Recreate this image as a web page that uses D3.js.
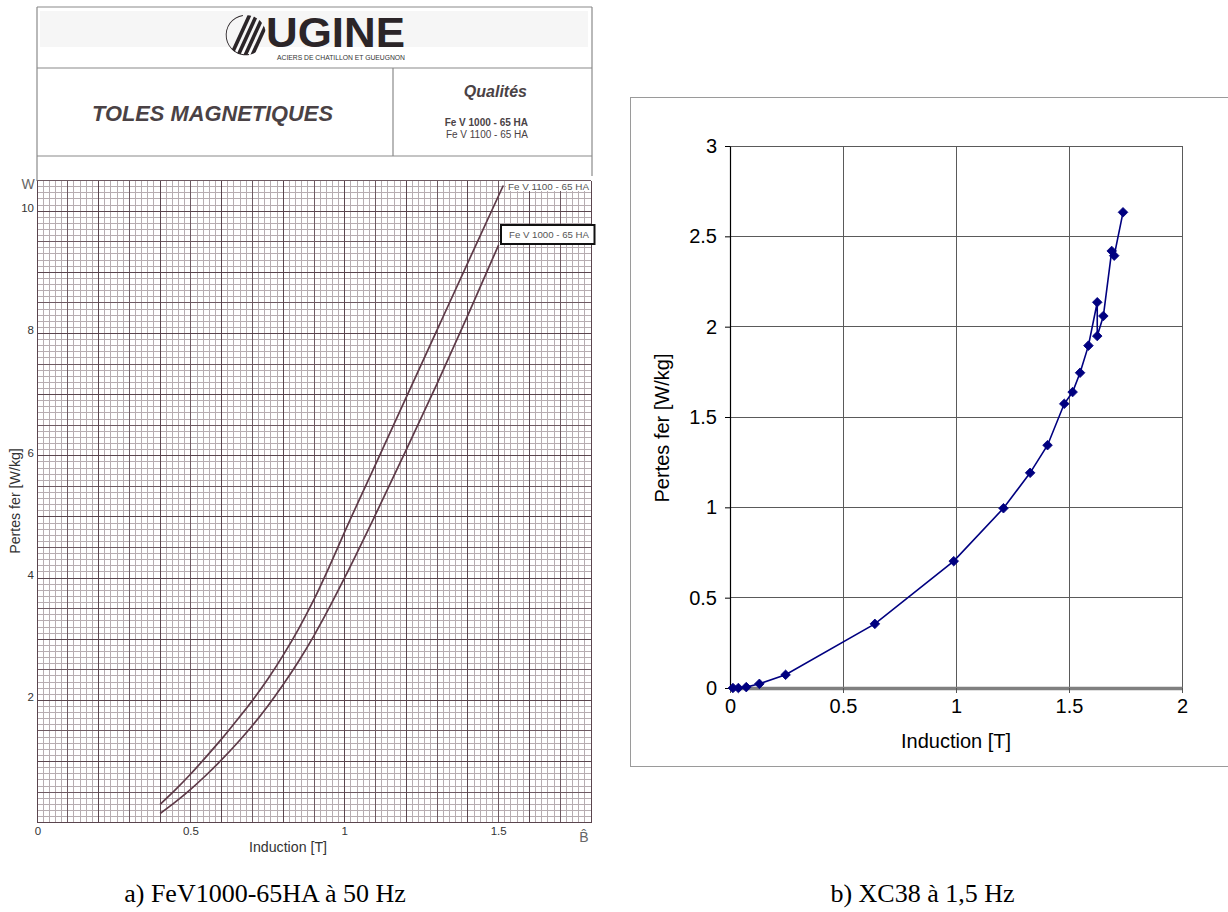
<!DOCTYPE html>
<html><head><meta charset="utf-8">
<script src="https://cdn.jsdelivr.net/npm/d3@7"></script>
<style>body{margin:0;background:#fff}svg{display:block}</style>
</head><body><svg id="c" width="1228" height="912"></svg>
<script>
// ---------- Panel a) FeV1000-65HA at 50 Hz (datasheet) ----------
const bFeV1100 = [0.40,0.45,0.50,0.55,0.60,0.65,0.70,0.75,0.80,0.85,0.90,0.95,1.00,1.10,1.20,1.30,1.40,1.515];
const wFeV1100 = [0.30,0.54,0.80,1.08,1.37,1.68,2.00,2.35,2.74,3.17,3.65,4.19,4.76,5.86,6.96,8.06,9.16,10.42];
const bFeV1000 = [0.40,0.45,0.50,0.55,0.60,0.65,0.70,0.75,0.80,0.85,0.90,0.95,1.00,1.10,1.20,1.30,1.40,1.50];
const wFeV1000 = [0.15,0.34,0.55,0.78,1.03,1.30,1.59,1.91,2.26,2.64,3.06,3.52,4.01,5.04,6.10,7.18,8.30,9.45];
const xTicksA = [0, 0.5, 1, 1.5];
const yTicksA = [2, 4, 6, 8, 10];
const captionA = "a) FeV1000-65HA à 50 Hz";

// ---------- Panel b) XC38 at 1,5 Hz ----------
const bXC38 = [0.013,0.037,0.072,0.130,0.246,0.641,0.990,1.210,1.328,1.405,1.479,1.516,1.549,1.586,1.625,1.625,1.652,1.689,1.700,1.739];
const pXC38 = [0.000,0.000,0.005,0.023,0.073,0.355,0.702,0.995,1.191,1.344,1.573,1.638,1.745,1.895,2.135,1.948,2.059,2.419,2.393,2.633];
const xTicksB = [0, 0.5, 1, 1.5, 2];
const yTicksB = [0, 0.5, 1, 1.5, 2, 2.5, 3];
const captionB = "b) XC38 à 1,5 Hz";

const svg = d3.select("#c");
svg.append("rect").attr("width",1228).attr("height",912).attr("fill","#fff");

// ================= PANEL A =================
const A = svg.append("g");
const sans = "Liberation Sans, Arial, Helvetica, sans-serif";
const xA = d3.scaleLinear().domain([0, 1.8]).range([37, 591]);
const yA = d3.scaleLinear().domain([0, 10.5]).range([822.7, 180.6]);

// header
A.append("rect").attr("x",40).attr("y",11).attr("width",548).attr("height",36).attr("fill","#f6f6f6");
const hdr = A.append("g").attr("stroke","#8a8a8a").attr("stroke-width",1.2).attr("fill","none");
hdr.append("line").attr("x1",37).attr("x2",592).attr("y1",7).attr("y2",7);
hdr.append("line").attr("x1",37).attr("x2",592).attr("y1",68).attr("y2",68);
hdr.append("line").attr("x1",37).attr("x2",592).attr("y1",156).attr("y2",156);
hdr.append("line").attr("x1",37).attr("x2",37).attr("y1",7).attr("y2",181);
hdr.append("line").attr("x1",592).attr("x2",592).attr("y1",7).attr("y2",176);
hdr.append("line").attr("x1",393).attr("x2",393).attr("y1",68).attr("y2",156);

// logo emblem
const defs = svg.append("defs");
defs.append("clipPath").attr("id","emb").append("circle").attr("cx",246).attr("cy",35).attr("r",20);
const emb = A.append("g").attr("clip-path","url(#emb)");
[0,1,2,3].forEach(i=>{
  const o = i*7 - 5;
  emb.append("path")
    .attr("d",`M${254+o},12 L${258+o},12 L${236+o},60 L${232+o},60 Z`)
    .attr("fill","#2b2528");
});
A.append("path").attr("d", d3.arc()({innerRadius:19.3, outerRadius:20.2, startAngle:Math.PI*0.95, endAngle:Math.PI*1.95}))
  .attr("transform","translate(246,35)").attr("fill","#2b2528");
A.append("text").attr("x",266).attr("y",47).attr("font-family",sans).attr("font-weight","bold")
  .attr("font-size",42).attr("fill","#2b2528").attr("textLength",139).attr("lengthAdjust","spacingAndGlyphs").text("UGINE");
A.append("text").attr("x",277).attr("y",60).attr("font-family",sans).attr("font-size",6.5)
  .attr("fill","#333").attr("textLength",128).attr("lengthAdjust","spacingAndGlyphs").text("ACIERS DE CHATILLON ET GUEUGNON");
A.append("text").attr("x",92).attr("y",121).attr("font-family",sans).attr("font-weight","bold").attr("font-style","italic")
  .attr("font-size",22).attr("fill","#4a4245").attr("textLength",241).attr("lengthAdjust","spacingAndGlyphs").text("TOLES MAGNETIQUES");
A.append("text").attr("x",527).attr("y",97).attr("text-anchor","end").attr("font-family",sans).attr("font-weight","bold").attr("font-style","italic")
  .attr("font-size",16).attr("fill","#4a4245").text("Qualités");
A.append("text").attr("x",528).attr("y",126).attr("text-anchor","end").attr("font-family",sans).attr("font-weight","bold")
  .attr("font-size",10).attr("fill","#4a4245").text("Fe V 1000 - 65 HA");
A.append("text").attr("x",528).attr("y",138).attr("text-anchor","end").attr("font-family",sans)
  .attr("font-size",10).attr("fill","#4a4245").text("Fe V 1100 - 65 HA");

// graph paper grid (minor lines first, then mid, then major on top)
const grid = A.append("g").attr("shape-rendering","crispEdges");
const level = i => i%10===0 ? 2 : i%5===0 ? 1 : 0;
const gridColor = ["#b7adb1", "#6e5a62", "#5a454e"];
[0,1,2].forEach(lv=>{
  d3.range(0, 91).filter(i=>level(i)===lv).forEach(i=>{
    const v = i*0.02;
    grid.append("line").attr("x1",xA(v)).attr("x2",xA(v)).attr("y1",yA(0)).attr("y2",yA(10.5))
      .attr("stroke", gridColor[lv]).attr("stroke-width",1);
  });
  d3.range(0, 106).filter(i=>level(i)===lv).forEach(i=>{
    const v = i*0.1;
    grid.append("line").attr("x1",xA(0)).attr("x2",xA(1.8)).attr("y1",yA(v)).attr("y2",yA(v))
      .attr("stroke", gridColor[lv]).attr("stroke-width",1);
  });
});

// curves
const lineA = d3.line().x(d=>xA(d[0])).y(d=>yA(d[1])).curve(d3.curveMonotoneX);
A.append("path").attr("d", lineA(bFeV1100.map((b,i)=>[b,wFeV1100[i]])))
  .attr("fill","none").attr("stroke","#5e3a48").attr("stroke-width",1.7);
A.append("path").attr("d", lineA(bFeV1000.map((b,i)=>[b,wFeV1000[i]])))
  .attr("fill","none").attr("stroke","#5e3a48").attr("stroke-width",1.7);

// curve labels
A.append("rect").attr("x",506).attr("y",181).attr("width",85).attr("height",10).attr("fill","#fff");
A.append("text").attr("x",508).attr("y",189.5).attr("font-family",sans).attr("font-size",9).attr("fill","#555")
  .attr("textLength",81).attr("lengthAdjust","spacingAndGlyphs").text("Fe V 1100 - 65 HA");
A.append("rect").attr("x",501).attr("y",225).attr("width",93.5).attr("height",19).attr("fill","#fff")
  .attr("stroke","#111").attr("stroke-width",2);
A.append("text").attr("x",509).attr("y",238).attr("font-family",sans).attr("font-size",9).attr("fill","#555")
  .attr("textLength",80).attr("lengthAdjust","spacingAndGlyphs").text("Fe V 1000 - 65 HA");

// axis labels
const axA = A.append("g").attr("font-family",sans).attr("fill","#333");
yTicksA.forEach(t=>{
  axA.append("text").attr("x",34).attr("y",yA(t)+1).attr("text-anchor","end").attr("font-size",11.5).text(t);
});
xTicksA.forEach(t=>{
  axA.append("text").attr("x",xA(t)+(t===0?1:0)).attr("y",835).attr("text-anchor","middle").attr("font-size",11.5).text(t);
});
axA.append("text").attr("x",28).attr("y",189).attr("text-anchor","middle").attr("font-size",14).attr("fill","#666").text("W");
axA.append("text").attr("x",584).attr("y",842).attr("text-anchor","middle").attr("font-size",14).attr("fill","#666").text("B\u0302");
axA.append("text").attr("x",288).attr("y",852).attr("text-anchor","middle").attr("font-size",14.2).text("Induction [T]");
axA.append("text").attr("transform","translate(20,501) rotate(-90)").attr("text-anchor","middle").attr("font-size",14.2).text("Pertes fer [W/kg]");

// ================= PANEL B =================
const B = svg.append("g");
const xB = d3.scaleLinear().domain([0, 2]).range([730, 1182]);
const yB = d3.scaleLinear().domain([0, 3]).range([688, 146]);
B.append("rect").attr("x",630.5).attr("y",97.5).attr("width",620).attr("height",669).attr("fill","#fff")
  .attr("stroke","#9a9a9a").attr("stroke-width",1);

// gridlines
const gB = B.append("g").attr("shape-rendering","crispEdges");
yTicksB.filter(t=>t>0).forEach(t=>{
  gB.append("line").attr("x1",xB(0)).attr("x2",xB(2)).attr("y1",yB(t)).attr("y2",yB(t)).attr("stroke","#5a5a5a").attr("stroke-width",1);
});
xTicksB.filter(t=>t>0).forEach(t=>{
  gB.append("line").attr("x1",xB(t)).attr("x2",xB(t)).attr("y1",yB(0)).attr("y2",yB(3)).attr("stroke","#5a5a5a").attr("stroke-width",1);
});

// axes
const fmt = d => String(d);
const yAxB = B.append("g").attr("transform",`translate(${xB(0)},0)`)
  .call(d3.axisLeft(yB).tickValues(yTicksB).tickSize(5).tickSizeOuter(0).tickPadding(8).tickFormat(fmt));
yAxB.select(".domain").attr("stroke","#000").attr("stroke-width",1.2);
yAxB.selectAll(".tick line").attr("stroke","#000");
yAxB.selectAll("text").attr("font-family",sans).attr("font-size",20).attr("fill","#000");
const xAxB = B.append("g").attr("transform",`translate(0,${yB(0)})`)
  .call(d3.axisBottom(xB).tickValues(xTicksB).tickSize(5).tickSizeOuter(0).tickPadding(6).tickFormat(fmt));
xAxB.select(".domain").attr("stroke","#808080").attr("stroke-width",3.5);
xAxB.selectAll(".tick line").attr("stroke","#555");
xAxB.selectAll("text").attr("font-family",sans).attr("font-size",20).attr("fill","#000");

B.append("text").attr("x",956).attr("y",748).attr("text-anchor","middle").attr("font-family",sans)
  .attr("font-size",20).attr("fill","#000").text("Induction [T]");
B.append("text").attr("transform","translate(669,428) rotate(-90)").attr("text-anchor","middle").attr("font-family",sans)
  .attr("font-size",20).attr("fill","#000").text("Pertes fer [W/kg]");

// series
const ptsB = bXC38.map((b,i)=>[b,pXC38[i]]);
B.append("path").attr("d", d3.line().x(d=>xB(d[0])).y(d=>yB(d[1]))(ptsB))
  .attr("fill","none").attr("stroke","#000080").attr("stroke-width",1.6);
B.selectAll("path.mk").data(ptsB).enter().append("path").attr("class","mk")
  .attr("d", d3.symbol(d3.symbolSquare, 46)())
  .attr("transform", d=>`translate(${xB(d[0])},${yB(d[1])}) rotate(45)`)
  .attr("fill","#000080").attr("stroke","#000080").attr("stroke-width",0.8);

// ================= CAPTIONS =================
const serif = "Liberation Serif, 'Times New Roman', Times, serif";
svg.append("text").attr("x",265).attr("y",902).attr("text-anchor","middle").attr("font-family",serif)
  .attr("font-size",26).attr("fill","#000").text(captionA);
svg.append("text").attr("x",922.5).attr("y",902).attr("text-anchor","middle").attr("font-family",serif)
  .attr("font-size",26).attr("fill","#000").text(captionB);
</script>
</body></html>
